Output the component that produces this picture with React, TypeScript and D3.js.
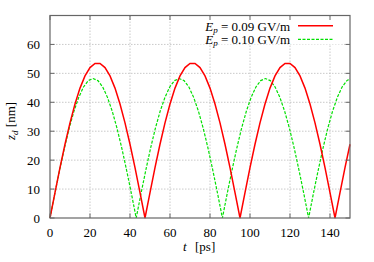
import React from "react";
import * as d3 from "d3";

// sample times (ps) and displacement (nm)
const redT = [
  0, 2.5, 5, 7.5, 10, 12.5, 15, 17.5, 20, 22.5, 25, 27.5, 30, 32.5, 35, 37.5, 40, 42.5, 45,
  47.5, 50, 52.5, 55, 57.5, 60, 62.5, 65, 67.5, 70, 72.5, 75, 77.5, 80, 82.5, 85, 87.5, 90, 92.5,
  95, 97.5, 100, 102.5, 105, 107.5, 110, 112.5, 115, 117.5, 120, 122.5, 125, 127.5, 130, 132.5,
  135, 137.5, 140, 142.5, 145, 147.5, 150,
];
const redZ = [
  0, 8.8, 17.4, 25.5, 32.9, 39.4, 44.9, 49.1, 52.0, 53.4, 53.4, 52.0, 49.1, 44.9, 39.4, 32.9, 25.5, 17.4, 8.8,
  0, 8.8, 17.4, 25.5, 32.9, 39.4, 44.9, 49.1, 52.0, 53.4, 53.4, 52.0, 49.1, 44.9, 39.4, 32.9, 25.5, 17.4, 8.8,
  0, 8.8, 17.4, 25.5, 32.9, 39.4, 44.9, 49.1, 52.0, 53.4, 53.4, 52.0, 49.1, 44.9, 39.4, 32.9, 25.5, 17.4, 8.8,
  0, 8.8, 17.4, 25.5,
];

const greenT = [
  0, 2.39, 4.79, 7.18, 9.58, 11.97, 14.37, 16.76, 19.16, 21.55, 23.94, 26.34, 28.73, 31.13, 33.52, 35.92, 38.31, 40.71,
  43.1, 45.49, 47.89, 50.28, 52.68, 55.07, 57.47, 59.86, 62.26, 64.65, 67.04, 69.44, 71.83, 74.23, 76.62, 79.02, 81.41, 83.81,
  86.2, 88.59, 90.99, 93.38, 95.78, 98.17, 100.57, 102.96, 105.36, 107.75, 110.14, 112.54, 114.93, 117.33, 119.72, 122.12, 124.51, 126.91,
  129.3, 131.69, 134.09, 136.48, 138.88, 141.27, 143.67, 146.06, 148.46, 150,
];
const greenZ = [
  0, 8.4, 16.5, 24.1, 31.0, 36.9, 41.7, 45.3, 47.5, 48.2, 47.5, 45.3, 41.7, 36.9, 31.0, 24.1, 16.5, 8.4,
  0, 8.4, 16.5, 24.1, 31.0, 36.9, 41.7, 45.3, 47.5, 48.2, 47.5, 45.3, 41.7, 36.9, 31.0, 24.1, 16.5, 8.4,
  0, 8.4, 16.5, 24.1, 31.0, 36.9, 41.7, 45.3, 47.5, 48.2, 47.5, 45.3, 41.7, 36.9, 31.0, 24.1, 16.5, 8.4,
  0, 8.4, 16.5, 24.1, 31.0, 36.9, 41.7, 45.3, 47.5, 48.1,
];

const xTicks = [0, 20, 40, 60, 80, 100, 120, 140];
const yTicks = [0, 10, 20, 30, 40, 50, 60];
const legendLabels = ["0.09 GV/m", "0.10 GV/m"];

const W = 374;
const H = 262;
const m = { left: 50, right: 24, top: 15.5, bottom: 44 };
const font = "'Liberation Serif', 'Times New Roman', serif";
const frameColor = "#666";

export default function App() {
  const x = d3.scaleLinear().domain([0, 150]).range([m.left, W - m.right]);
  const y = d3.scaleLinear().domain([0, 70]).range([H - m.bottom, m.top]);

  const line = d3
    .line<[number, number]>()
    .x((d) => x(d[0]))
    .y((d) => y(d[1]));

  const red = redT.map((t, i) => [t, redZ[i]] as [number, number]);
  const green = greenT.map((t, i) => [t, greenZ[i]] as [number, number]);

  const x0 = x(0), x1 = x(150), y0 = y(0), y1 = y(70);
  const tick = 4.5;

  return (
    <svg
      width={W}
      height={H}
      style={{ position: "absolute", left: 0, top: 0, background: "#fff" }}
      fontFamily={font}
      fontSize={13}
    >
      {/* grid */}
      <g stroke="#bbb" strokeWidth={0.8} strokeDasharray="1.5,1.5">
        {xTicks.filter((t) => t > 0).map((t) => (
          <line key={"gx" + t} x1={x(t)} x2={x(t)} y1={y0} y2={y1} />
        ))}
        {yTicks.filter((t) => t > 0).map((t) => (
          <line key={"gy" + t} x1={x0} x2={x1} y1={y(t)} y2={y(t)} />
        ))}
      </g>

      {/* opaque key box */}
      <rect x={180} y={y1 + 1} width={162} height={28} fill="#fff" />

      {/* curves */}
      <path d={line(green) || ""} fill="none" stroke="#00e000" strokeWidth={1.2} strokeDasharray="3,1.5" />
      <path d={line(red) || ""} fill="none" stroke="#ff0000" strokeWidth={1.5} />

      {/* ticks */}
      <g stroke={frameColor} strokeWidth={1}>
        {xTicks.map((t) => (
          <g key={"tx" + t}>
            <line x1={x(t)} x2={x(t)} y1={y0} y2={y0 - tick} />
            <line x1={x(t)} x2={x(t)} y1={y1} y2={y1 + tick} />
          </g>
        ))}
        {yTicks.map((t) => (
          <g key={"ty" + t}>
            <line x1={x0} x2={x0 + tick} y1={y(t)} y2={y(t)} />
            <line x1={x1} x2={x1 - tick} y1={y(t)} y2={y(t)} />
          </g>
        ))}
      </g>

      {/* frame */}
      <rect x={x0} y={y1} width={x1 - x0} height={y0 - y1} fill="none" stroke={frameColor} strokeWidth={1.2} />

      {/* tick labels */}
      {xTicks.map((t) => (
        <text key={"lx" + t} x={x(t)} y={y0 + 18.5} textAnchor="middle">
          {t}
        </text>
      ))}
      {yTicks.map((t) => (
        <text key={"ly" + t} x={x0 - 10} y={y(t) + 4.5} textAnchor="end">
          {t}
        </text>
      ))}

      {/* axis titles */}
      <text x={183} y={251}>
        <tspan fontStyle="italic">t</tspan>
        <tspan x={195}>[ps]</tspan>
      </text>
      <text transform={`translate(15,${140}) rotate(-90)`}>
        <tspan fontStyle="italic">z</tspan>
        <tspan fontStyle="italic" fontSize={9} dy={2.5}>d</tspan>
        <tspan dy={-2.5}> [nm]</tspan>
      </text>

      {/* key */}
      {legendLabels.map((lab, i) => (
        <g key={"k" + i}>
          <text x={290} y={30.5 + i * 13} textAnchor="end">
            <tspan fontStyle="italic">E</tspan>
            <tspan fontStyle="italic" fontSize={9} dy={2.5}>p</tspan>
            <tspan dy={-2.5}>{" = " + lab}</tspan>
          </text>
          <line
            x1={298}
            x2={333}
            y1={25.8 + i * 13.5}
            y2={25.8 + i * 13.5}
            stroke={i === 0 ? "#ff0000" : "#00e000"}
            strokeWidth={i === 0 ? 1.5 : 1.2}
            strokeDasharray={i === 0 ? undefined : "3,1.5"}
          />
        </g>
      ))}
    </svg>
  );
}
